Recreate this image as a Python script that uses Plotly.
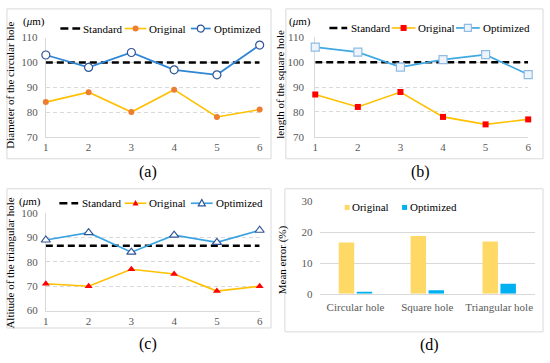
import plotly.graph_objects as go

# ---------------- data ----------------
runs = [1, 2, 3, 4, 5, 6]
circ_standard = [100, 100, 100, 100, 100, 100]
circ_original = [84, 88, 80, 89, 78, 81]
circ_optimized = [103, 98, 104, 97, 95, 107]

sq_standard = [100, 100, 100, 100, 100, 100]
sq_original = [87, 82, 88, 78, 75, 77]
sq_optimized = [106, 104, 98, 101, 103, 95]

tri_standard = [86.6, 86.6, 86.6, 86.6, 86.6, 86.6]
tri_original = [71, 70, 77, 75, 68, 70]
tri_optimized = [89, 92, 84, 91, 88, 93]

hole_types = ["Circular hole", "Square hole", "Triangular hole"]
err_original = [16.7, 18.8, 17.0]
err_optimized = [0.7, 1.2, 3.3]

# ---------------- helpers ----------------
W, H = 550, 363
def px(x):
    return x / W
def py(y):
    return 1 - y / H

SERIF = "Liberation Serif, Times New Roman, serif"
TICK = dict(family=SERIF, size=11, color="#595959")
GRID = "#D9D9D9"
GOLD = "#FFC000"
BLACK = "#000000"

fig = go.Figure()

def std_trace(y, xa, ya):
    return go.Scatter(x=runs, y=y, mode="lines", xaxis=xa, yaxis=ya,
                      line=dict(color=BLACK, width=2.5, dash="7px,4px"),
                      showlegend=False, cliponaxis=False, hoverinfo="skip")

# panel a
fig.add_trace(std_trace(circ_standard, "x", "y"))
fig.add_trace(go.Scatter(x=runs, y=circ_original, mode="lines+markers", xaxis="x", yaxis="y",
                         line=dict(color=GOLD, width=1.6),
                         marker=dict(symbol="circle", size=6, color="#ED7D31", line=dict(width=0)),
                         showlegend=False, cliponaxis=False))
fig.add_trace(go.Scatter(x=runs, y=circ_optimized, mode="lines+markers", xaxis="x", yaxis="y",
                         line=dict(color="#2E86D6", width=1.7),
                         marker=dict(symbol="circle", size=8, color="white", line=dict(color="#2F5597", width=1.2)),
                         showlegend=False, cliponaxis=False))
# panel b
fig.add_trace(std_trace(sq_standard, "x2", "y2"))
fig.add_trace(go.Scatter(x=runs, y=sq_original, mode="lines+markers", xaxis="x2", yaxis="y2",
                         line=dict(color=GOLD, width=1.6),
                         marker=dict(symbol="square", size=6, color="#FF0000", line=dict(width=0)),
                         showlegend=False, cliponaxis=False))
fig.add_trace(go.Scatter(x=runs, y=sq_optimized, mode="lines+markers", xaxis="x2", yaxis="y2",
                         line=dict(color="#41A9E1", width=1.7),
                         marker=dict(symbol="square", size=8, color="#EEF4FB", line=dict(color="#8FBCE6", width=1.2)),
                         showlegend=False, cliponaxis=False))
# panel c
fig.add_trace(std_trace(tri_standard, "x3", "y3"))
fig.add_trace(go.Scatter(x=runs, y=tri_original, mode="lines+markers", xaxis="x3", yaxis="y3",
                         line=dict(color=GOLD, width=1.6),
                         marker=dict(symbol="triangle-up", size=7, color="#FF0000", line=dict(width=0)),
                         showlegend=False, cliponaxis=False))
fig.add_trace(go.Scatter(x=runs, y=tri_optimized, mode="lines+markers", xaxis="x3", yaxis="y3",
                         line=dict(color="#3BA3E0", width=1.7),
                         marker=dict(symbol="triangle-up", size=8, color="white", line=dict(color="#2F5597", width=1.2)),
                         showlegend=False, cliponaxis=False))
# panel d
fig.add_trace(go.Bar(x=hole_types, y=err_original, xaxis="x4", yaxis="y4",
                     marker=dict(color="#FFD966", line=dict(width=0)), showlegend=False))
fig.add_trace(go.Bar(x=hole_types, y=err_optimized, xaxis="x4", yaxis="y4",
                     marker=dict(color="#00B0F0", line=dict(width=0)), showlegend=False))

def line_x(x0, x1, anchor):
    return dict(domain=[px(x0), px(x1)], anchor=anchor, range=[1, 6], tickvals=runs,
                showgrid=False, zeroline=False, showline=True, linecolor=GRID, linewidth=1,
                ticks="", tickfont=TICK, ticklabelstandoff=0, fixedrange=True,
                layer="below traces")

def line_y(ytop, ybot, rng, anchor, standoff):
    return dict(domain=[py(ybot), py(ytop)], anchor=anchor, range=rng, dtick=10,
                showgrid=True, gridcolor=GRID, griddash="4px,3px", gridwidth=1,
                zeroline=False, showline=True, linecolor=GRID, linewidth=1,
                ticks="", tickfont=TICK, ticklabelstandoff=standoff, fixedrange=True,
                layer="below traces")

layout = dict(
    width=W, height=H, margin=dict(l=0, r=0, t=0, b=0),
    paper_bgcolor="white", plot_bgcolor="white", showlegend=False,
    barmode="group", bargap=0.5, bargroupgap=0.14,
    xaxis=line_x(43.3, 259.5, "y"),
    yaxis=line_y(32.7, 135.3, [70, 110], "x", 5),
    xaxis2=line_x(315.7, 531, "y2"),
    yaxis2=line_y(32.3, 135.3, [70, 110], "x2", 8),
    xaxis3=line_x(43.3, 259.5, "y3"),
    yaxis3=line_y(214.3, 315, [60, 100], "x3", 5),
    xaxis4=dict(domain=[px(320), px(538)], anchor="y4", type="category",
                showgrid=False, zeroline=False, showline=True, linecolor=GRID, linewidth=1,
                ticks="", tickfont=TICK, ticklabelstandoff=3, fixedrange=True,
                layer="below traces"),
    yaxis4=dict(domain=[py(297.7), py(202.3)], anchor="x4", range=[0, 30], dtick=10,
                showgrid=True, gridcolor=GRID, gridwidth=1, zeroline=False, showline=False,
                ticks="", tickfont=TICK, ticklabelstandoff=6, fixedrange=True,
                layer="below traces"),
)
fig.update_layout(**layout)

shapes = []
annotations = []

# panel borders
for (x0, y0, x1, y1) in [(4, 3, 271, 158), (286, 3, 546, 158), (4, 189, 271, 333), (285, 189, 546, 337)]:
    shapes.append(dict(type="rect", xref="paper", yref="paper", x0=px(x0), x1=px(x1),
                       y0=py(y1), y1=py(y0), line=dict(color="#D9D9D9", width=1), layer="below"))

def text(x, y, s, size=11, color=BLACK, xanchor="left", angle=0):
    annotations.append(dict(x=px(x), y=py(y), xref="paper", yref="paper", text=s, showarrow=False,
                            xanchor=xanchor, yanchor="middle", textangle=angle, borderpad=0,
                            font=dict(family=SERIF, size=size, color=color)))

def seg(x0, x1, y, color, width, dash="solid"):
    shapes.append(dict(type="line", xref="paper", yref="paper", x0=px(x0), x1=px(x1),
                       y0=py(y), y1=py(y), line=dict(color=color, width=width, dash=dash)))

def mark(kind, x, y, r, fill, edge=None, ew=0):
    base = dict(xref="paper", yref="paper", xsizemode="pixel", ysizemode="pixel",
                xanchor=px(x), yanchor=py(y), fillcolor=fill,
                line=dict(color=edge if edge else fill, width=ew if edge else 0))
    if kind == "circle":
        base.update(type="circle", x0=-r, x1=r, y0=-r, y1=r)
    elif kind == "square":
        base.update(type="rect", x0=-r, x1=r, y0=-r, y1=r)
    else:
        base.update(type="path", path=f"M{-r},{-0.75*r} L{r},{-0.75*r} L0,{1.05*r} Z")
    shapes.append(base)

# legends for line panels
def line_legend(y, std, orig, opt, opt_line, kind, orig_mark, opt_fill, opt_edge, opt_r):
    seg(std[0], std[1], y, BLACK, 2.5, "8px,4px")
    text(std[2], y, "Standard")
    seg(orig[0], orig[1], y, GOLD, 1.6)
    mark(kind, (orig[0] + orig[1]) / 2, y, 3, orig_mark)
    text(orig[2], y, "Original")
    seg(opt[0], opt[1], y, opt_line, 1.7)
    mark(kind, (opt[0] + opt[1]) / 2, y, opt_r, opt_fill, opt_edge, 1.2)
    text(opt[2], y, "Optimized")

line_legend(23.3, (58, 78, 80), (123, 145, 147), (190, 210, 212), "#2E86D6",
            "circle", "#ED7D31", "white", "#2F5597", 3.5)
line_legend(22.7, (330, 348, 351), (393, 417, 419), (458, 482, 484), "#41A9E1",
            "square", "#FF0000", "#EEF4FB", "#8FBCE6", 3.5)
line_legend(204, (57, 76, 79), (123, 145, 147), (190, 212, 214), "#3BA3E0",
            "triangle", "#FF0000", "white", "#2F5597", 3.5)

# legend for bar panel
mark("square", 348, 208.3, 2.5, "#FFD966")
text(352, 208.3, "Original")
mark("square", 406, 208.3, 2.5, "#00B0F0")
text(410, 208.3, "Optimized")

# unit labels
text(31, 16, "(<i>μ</i>m)", size=11, xanchor="center")
text(300.5, 16, "(<i>μ</i>m)", size=11, xanchor="center")
text(27.5, 201.7, "(<i>μ</i>m)", size=11, xanchor="center")

# axis titles
text(7.5, 82, "Diameter of the circular hole", size=11, xanchor="center", angle=-90)
text(280.5, 81, "length of the square hole", size=11, xanchor="center", angle=-90)
text(7.5, 266, "Altitude of the triangular hole", size=11, xanchor="center", angle=-90)
text(282, 262, "Mean error (%)", size=11, xanchor="center", angle=-90)

# captions
text(146.7, 171.5, "(a)", size=16, xanchor="center")
text(421.7, 171.5, "(b)", size=16, xanchor="center")
text(146.7, 350, "(c)", size=16, xanchor="center")
text(431.7, 350.5, "(d)", size=16, xanchor="center")

fig.update_layout(shapes=shapes, annotations=annotations)
fig.write_html("out.html", config={"displayModeBar": False},
               post_script="document.body.style.margin='0';")
